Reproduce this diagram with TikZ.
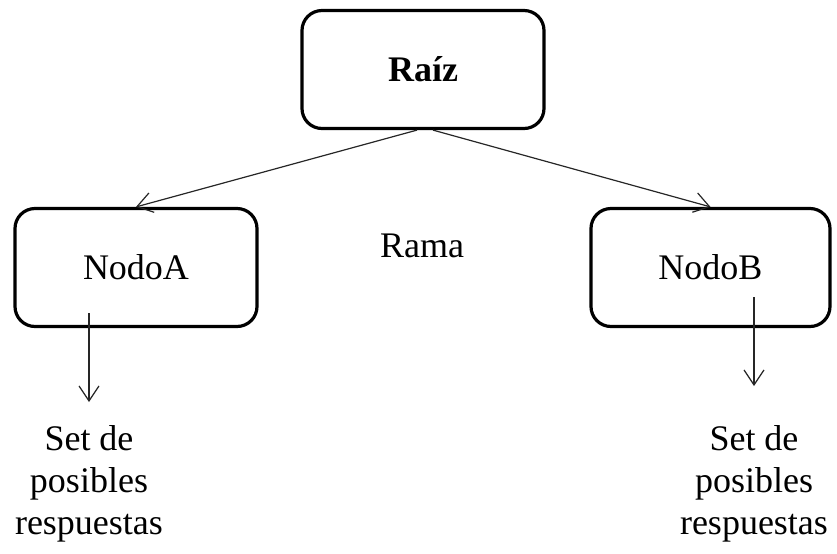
\documentclass[tikz,border=0pt]{standalone}
\usepackage{fontspec}
\setmainfont{Liberation Serif}
\usetikzlibrary{arrows.meta,positioning}

\begin{document}
\begin{tikzpicture}[
  x=0.5pt, y=-0.5pt,
  box/.style={draw, line width=1.6pt, rounded corners=10pt, minimum width=#1, minimum height=59pt, font=\fontsize{18}{21}\selectfont},
  box/.default=121pt,
  texto/.style={font=\fontsize{18}{21}\selectfont, align=center, inner sep=0pt},
  flecha/.style={-{Straight Barb[length=7.5pt, width=10pt]}, line width=0.6pt, black!85}
]
  \useasboundingbox (0,0) rectangle (837,553);

  % Raiz
  \node[box, font=\fontsize{18}{21}\selectfont\bfseries] (raiz) at (423,69.5) {Raíz};

  % Nodos
  \node[box] (nodoA) at (136,267.5) {NodoA};
  \node[box=119.5pt] (nodoB) at (710.5,267.5) {NodoB};

  % Rama
  \node[texto, anchor=base] (rama) at (422,257) {Rama};

  % Respuestas
  \node[texto, anchor=north] (setA) at (89,425) {Set de\\posibles\\respuestas};
  \node[texto, anchor=north] (setB) at (754,425) {Set de\\posibles\\respuestas};

  % Flechas
  \draw[flecha] ([xshift=-3pt]raiz.south) -- (nodoA.north);
  \draw[flecha] ([xshift=5pt]raiz.south) -- (nodoB.north);

  \coordinate (bajaA) at (89,313);
  \coordinate (puntaA) at (89,402);
  \draw[flecha] (bajaA) -- (puntaA);

  \coordinate (bajaB) at (754,297);
  \coordinate (puntaB) at (754,386);
  \draw[flecha] (bajaB) -- (puntaB);
\end{tikzpicture}
\end{document}
